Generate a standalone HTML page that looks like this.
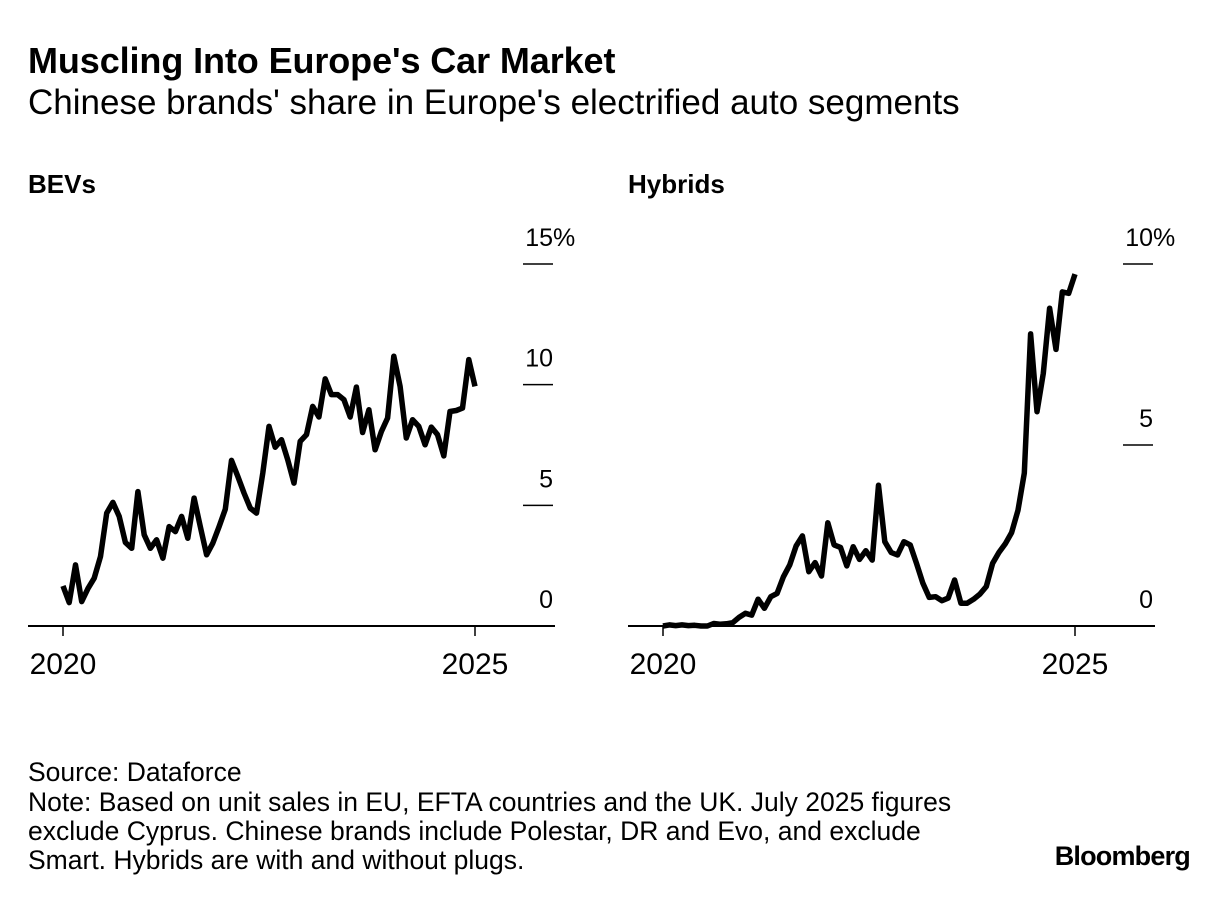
<!DOCTYPE html>
<html><head><meta charset="utf-8"><style>
body{margin:0;background:#fff;width:1229px;height:900px;overflow:hidden;font-family:"Liberation Sans",Arial,sans-serif;color:#000}
svg text{font-family:"Liberation Sans",Arial,sans-serif}
</style></head><body>
<svg id="chart" width="1229" height="900" xmlns="http://www.w3.org/2000/svg">
<text x="28" y="73" font-size="36" font-weight="bold" letter-spacing="-0.1">Muscling Into Europe's Car Market</text>
<text x="28" y="114" font-size="35" letter-spacing="0">Chinese brands' share in Europe's electrified auto segments</text>
<text x="28" y="193" font-size="26" font-weight="bold">BEVs</text>
<text x="628" y="193" font-size="26" font-weight="bold">Hybrids</text>
<g id="left"></g>
<g id="right"></g>
<text x="28" y="781" font-size="26.5">Source: Dataforce</text>
<text x="28" y="811" font-size="26.5">Note: Based on unit sales in EU, EFTA countries and the UK. July 2025 figures</text>
<text x="28" y="840" font-size="26.5">exclude Cyprus. Chinese brands include Polestar, DR and Evo, and exclude</text>
<text x="28" y="869" font-size="26.5">Smart. Hybrids are with and without plugs.</text>
<text x="1190" y="865" font-size="27" font-weight="bold" text-anchor="end" letter-spacing="-0.8">Bloomberg</text>
</svg>
<script>
const bevValues=[1.66,0.97,2.53,1.01,1.56,1.98,2.88,4.68,5.12,4.54,3.46,3.22,5.57,3.78,3.22,3.57,2.81,4.12,3.91,4.54,3.64,5.30,4.12,2.95,3.43,4.12,4.84,6.86,6.20,5.51,4.88,4.68,6.34,8.27,7.41,7.72,6.89,5.92,7.65,7.93,9.10,8.66,10.24,9.59,9.59,9.38,8.66,9.90,8.02,8.96,7.30,8.06,8.62,11.18,9.93,7.79,8.55,8.27,7.51,8.24,7.93,7.05,8.89,8.93,9.03,11.04,9.93];
const hybridValues=[0,0.03,0.01,0.03,0.01,0.02,0,0,0.07,0.05,0.06,0.09,0.24,0.35,0.30,0.74,0.49,0.81,0.90,1.36,1.69,2.21,2.49,1.50,1.75,1.38,2.85,2.24,2.17,1.66,2.19,1.84,2.08,1.82,3.89,2.33,2.03,1.96,2.33,2.24,1.73,1.18,0.79,0.81,0.70,0.77,1.27,0.63,0.63,0.74,0.88,1.09,1.73,2.03,2.27,2.58,3.20,4.22,8.07,5.92,6.98,8.78,7.64,9.23,9.19,9.72];
const bevTicks=[0,5,10,15];
const bevTickLabels=["0","5","10","15%"];
const hybridTicks=[0,5,10];
const hybridTickLabels=["0","5","10%"];
const xTickLabels=["2020","2025"];
const NS="http://www.w3.org/2000/svg";
function mk(parent,tag,attrs){const e=document.createElementNS(NS,tag);for(const k in attrs)e.setAttribute(k,attrs[k]);parent.appendChild(e);return e;}
function panel(g,x0,values,ticks,labels,ymax,prefix){
  const xStart=x0+35,xEnd=x0+447,base=626,top=264;
  const yS=v=>base-(v/ymax)*(base-top);
  const xS=i=>xStart+i*(xEnd-xStart)/(values.length-1);
  const bl=mk(g,'line',{x1:x0,x2:x0+527,y1:base,y2:base,stroke:'#000','stroke-width':2});
  
  
  ticks.forEach((t,i)=>{
    if(t>0){const l=mk(g,'line',{x1:x0+495,x2:x0+525,y1:yS(t),y2:yS(t),stroke:'#000','stroke-width':1.5});
      
      }
    const lab=labels[i];const pct=lab.endsWith('%');
    const tx=mk(g,'text',{x:x0+525,y:yS(t)-18,'font-size':25,'text-anchor':'end'});
    tx.textContent=pct?lab.slice(0,-1):lab;
    
    
    if(pct){const p=mk(g,'text',{x:x0+525,y:yS(t)-18,'font-size':25});p.textContent='%';
      
      }
  });
  [xStart,xEnd].forEach((x,i)=>{
    const tk=mk(g,'line',{x1:x,x2:x,y1:base,y2:base+10,stroke:'#000','stroke-width':1.5});
    
    
    const tx=mk(g,'text',{x:x,y:base+48,'font-size':30,'text-anchor':'middle'});
    tx.textContent=xTickLabels[i];
    
    
  });
  const d=values.map((v,i)=>(i?'L':'M')+xS(i).toFixed(1)+','+yS(v).toFixed(1)).join('');
  const p=mk(g,'path',{d:d,fill:'none',stroke:'#000','stroke-width':5.5,'stroke-linejoin':'round'});
  
  
}
panel(document.getElementById('left'),28,bevValues,bevTicks,bevTickLabels,15,'bevs');
panel(document.getElementById('right'),628,hybridValues,hybridTicks,hybridTickLabels,10,'hybrids');
</script>
</body></html>
